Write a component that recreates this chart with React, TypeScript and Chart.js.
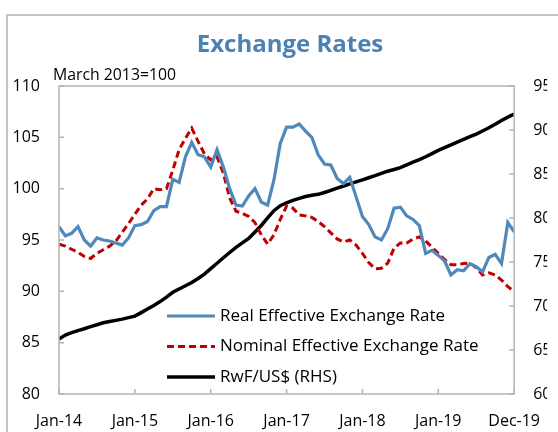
import React, { useEffect, useRef } from 'react';
import { Chart, registerables } from 'chart.js';

Chart.register(...registerables);

// ---- data ----
const xTickPositions = [0, 12, 24, 36, 48, 60, 72];
const xTickLabels = ['Jan-14', 'Jan-15', 'Jan-16', 'Jan-17', 'Jan-18', 'Jan-19', 'Dec-19'];
const leftTicks = [80, 85, 90, 95, 100, 105, 110];
const rightTicks = [600, 650, 700, 750, 800, 850, 900, 950];

const reer = [
  96.3, 95.4, 95.65, 96.3, 95.0, 94.4, 95.2, 95.0, 94.9, 94.7,
  94.5, 95.2, 96.4, 96.5, 96.8, 97.85, 98.25, 98.25, 100.9, 100.6,
  103.1, 104.5, 103.3, 103.1, 102.1, 103.8, 102.1, 100.0, 98.4, 98.3,
  99.3, 100.0, 98.7, 98.4, 100.85, 104.4, 106.0, 106.0, 106.3, 105.6,
  105.0, 103.3, 102.4, 102.3, 101.0, 100.5, 101.1, 99.2, 97.3, 96.5,
  95.3, 95.0, 96.1, 98.1, 98.2, 97.35, 97.0, 96.4, 93.7, 94.0,
  93.5, 92.95, 91.6, 92.1, 92.0, 92.7, 92.4, 91.9, 93.3, 93.6,
  92.7, 96.7, 95.8,
];

const neer = [
  94.6, 94.4, 94.1, 93.8, 93.4, 93.2, 93.7, 94.05, 94.4, 94.9,
  95.75, 96.6, 97.5, 98.4, 99.0, 100.0, 99.9, 100.0, 101.8, 103.8,
  104.9, 105.9, 104.6, 103.4, 102.8, 103.1, 101.5, 99.1, 97.8, 97.6,
  97.3, 96.7, 95.5, 94.6, 95.5, 97.0, 98.3, 98.1, 97.45, 97.35,
  97.2, 96.8, 96.3, 95.7, 95.1, 94.8, 95.0, 94.5, 93.7, 92.8,
  92.2, 92.25, 92.75, 94.2, 94.7, 94.7, 95.1, 95.3, 94.9, 94.3,
  93.7, 93.1, 92.6, 92.6, 92.7, 92.75, 92.3, 91.6, 91.8, 91.6,
  91.1, 90.45, 90.0,
];

const rwf = [
  662.5, 667, 669.8, 672, 674.2, 676.5, 678.7, 681, 682.3, 683.7,
  685.1, 686.8, 688.5, 692.5, 696.5, 700.5, 705, 710, 715.6, 719.4,
  723, 726.6, 731.2, 736.3, 742.4, 748.6, 754.8, 760.8, 766.6, 771.8,
  776.8, 784, 791.5, 800.1, 808.3, 814, 817.3, 820, 822.3, 824.4,
  825.8, 826.9, 829, 831.5, 834, 836.4, 838.7, 841.1, 843.4, 845.7,
  848.1, 850.8, 853.2, 855.1, 857.3, 860.4, 863.5, 866.4, 869.6, 873.1,
  876.8, 880, 883.2, 886.3, 889.4, 892.4, 895.3, 898.9, 902.5, 906.5,
  910.7, 914.6, 918,
];

const FONT = '"Open Sans", sans-serif';
const BLUE = '#4f88bb';
const RED = '#c00000';
const BLACK = '#000000';

const decor = {
  id: 'decor',
  beforeDraw(chart: any) {
    const ctx = chart.ctx;
    ctx.save();
    ctx.fillStyle = '#ffffff';
    ctx.fillRect(0, 0, chart.width, chart.height);
    ctx.strokeStyle = '#c4c4c4';
    ctx.lineWidth = 2;
    ctx.strokeRect(7, 15, chart.width + 40, chart.height + 40);
    ctx.fillStyle = '#4a82b4';
    ctx.font = `bold 24px ${FONT}`;
    ctx.textAlign = 'center';
    ctx.textBaseline = 'alphabetic';
    ctx.fillText('Exchange Rates', 290, 52);
    ctx.fillStyle = '#000';
    ctx.font = `15.8px ${FONT}`;
    ctx.textAlign = 'left';
    ctx.fillText('March 2013=100', 53, 80);
    ctx.restore();
  },
  afterDraw(chart: any) {
    const { ctx, chartArea: a, scales } = chart;
    ctx.save();
    ctx.strokeStyle = '#b4b4b4';
    ctx.lineWidth = 1.5;
    ctx.strokeRect(a.left, a.top, a.right - a.left, a.bottom - a.top);
    ctx.beginPath();
    for (const v of leftTicks) {
      const y = scales.y.getPixelForValue(v);
      ctx.moveTo(a.left, y);
      ctx.lineTo(a.left + 5, y);
    }
    for (const v of rightTicks) {
      const y = scales.y2.getPixelForValue(v);
      ctx.moveTo(a.right, y);
      ctx.lineTo(a.right - 5, y);
    }
    for (const v of xTickPositions) {
      const x = scales.x.getPixelForValue(v);
      ctx.moveTo(x, a.bottom);
      ctx.lineTo(x, a.bottom - 5);
    }
    ctx.stroke();

    // legend
    const rows = [316, 346.5, 377];
    chart.data.datasets.forEach((ds: any, i: number) => {
      const y = rows[i];
      ctx.beginPath();
      ctx.strokeStyle = ds.borderColor;
      ctx.lineWidth = ds.borderWidth;
      ctx.setLineDash(ds.borderDash || []);
      ctx.moveTo(167, y);
      ctx.lineTo(215, y);
      ctx.stroke();
      ctx.setLineDash([]);
      ctx.fillStyle = '#000';
      ctx.font = `17px ${FONT}`;
      ctx.textAlign = 'left';
      ctx.textBaseline = 'middle';
      ctx.fillText(ds.label, 220, y);
    });
    ctx.restore();
  },
};

export default function App() {
  const ref = useRef<HTMLCanvasElement>(null);

  useEffect(() => {
    const canvas = ref.current;
    if (!canvas) return;
    const chart = new Chart(canvas, {
      type: 'line',
      data: {
        datasets: [
          {
            label: 'Real Effective Exchange Rate',
            data: reer.map((v, i) => ({ x: i, y: v })),
            borderColor: BLUE,
            borderWidth: 3.2,
            yAxisID: 'y',
            pointRadius: 0,
            tension: 0,
          },
          {
            label: 'Nominal Effective Exchange Rate',
            data: neer.map((v, i) => ({ x: i, y: v })),
            borderColor: RED,
            borderWidth: 3,
            borderDash: [7, 4],
            yAxisID: 'y',
            pointRadius: 0,
            tension: 0,
          },
          {
            label: 'RwF/US$ (RHS)',
            data: rwf.map((v, i) => ({ x: i, y: v })),
            borderColor: BLACK,
            borderWidth: 3.5,
            yAxisID: 'y2',
            pointRadius: 0,
            tension: 0,
          },
        ],
      },
      options: {
        responsive: false,
        animation: false,
        devicePixelRatio: 1,
        layout: { padding: { top: 86, left: 0, right: 0, bottom: 0 } },
        plugins: {
          legend: { display: false },
          tooltip: { enabled: false },
          title: { display: false },
        },
        scales: {
          x: {
            type: 'linear',
            min: 0,
            max: 72,
            grid: { display: false, drawTicks: false },
            border: { display: false },
            afterBuildTicks: (axis: any) => {
              axis.ticks = xTickPositions.map((v) => ({ value: v }));
            },
            afterFit: (s: any) => {
              s.height = 38;
            },
            ticks: {
              autoSkip: false,
              maxRotation: 0,
              padding: 18,
              color: '#000',
              font: { family: FONT, size: 16 },
              callback: (value: any) => xTickLabels[xTickPositions.indexOf(Number(value))],
            },
          },
          y: {
            position: 'left',
            min: 80,
            max: 110,
            grid: { display: false, drawTicks: false },
            border: { display: false },
            afterBuildTicks: (axis: any) => {
              axis.ticks = leftTicks.map((v) => ({ value: v }));
            },
            afterFit: (s: any) => {
              s.width = 59;
            },
            ticks: {
              padding: 19,
              color: '#000',
              font: { family: FONT, size: 16 },
            },
          },
          y2: {
            position: 'right',
            min: 600,
            max: 950,
            grid: { display: false, drawTicks: false },
            border: { display: false },
            afterBuildTicks: (axis: any) => {
              axis.ticks = rightTicks.map((v) => ({ value: v }));
            },
            afterFit: (s: any) => {
              s.width = 33;
            },
            ticks: {
              padding: 19,
              color: '#000',
              font: { family: FONT, size: 16 },
            },
          },
        },
      },
      plugins: [decor],
    });
    return () => chart.destroy();
  }, []);

  return (
    <div style={{ position: 'fixed', left: 0, top: 0, width: 558, height: 432, overflow: 'hidden', background: '#fff' }}>
      <canvas ref={ref} width={558} height={432} style={{ width: 558, height: 432, display: 'block' }} />
    </div>
  );
}
